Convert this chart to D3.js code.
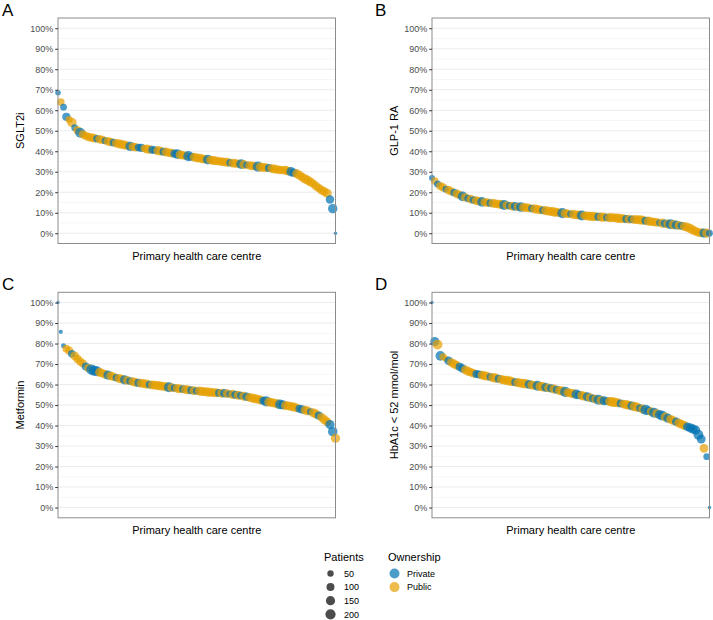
<!DOCTYPE html>
<html>
<head>
<meta charset="utf-8">
<script src="https://cdn.jsdelivr.net/npm/d3@7/dist/d3.min.js"></script>
<style>
  body { margin: 0; background: #fff; }
  text { font-family: "Liberation Sans", Arial, Helvetica, sans-serif; }
</style>
</head>
<body>
<svg id="chart" width="713" height="620"></svg>
<script>
// share per centre (%), centres ranked from highest to lowest
var sglt2i = [68.5, 64, 61.5, 56.8, 55.5, 54, 51.5, 50.2, 49, 48.2,
  47.5, 47, 46.7, 46.4, 46.1, 45.8, 45.5, 45.1, 44.8, 44.5,
  44.2, 43.9, 43.6, 43.3, 43, 42.7, 42.4, 42.2, 42, 41.8,
  41.6, 41.4, 41.1, 40.9, 40.7, 40.5, 40.3, 40.1, 39.8, 39.6,
  39.3, 39.1, 38.8, 38.6, 38.3, 38.1, 37.8, 37.6, 37.3, 37.1,
  36.8, 36.6, 36.3, 36.1, 35.9, 35.7, 35.5, 35.3, 35.1, 34.9,
  34.8, 34.6, 34.4, 34.2, 34.1, 33.9, 33.7, 33.5, 33.3, 33.1,
  32.9, 32.7, 32.5, 32.3, 32.1, 32, 31.8, 31.6, 31.3, 31.1,
  30.9, 30.8, 30.7, 30.3, 30, 29.5, 29.1, 28.3, 27.4, 26.5,
  25.8, 25, 24.2, 23, 22, 21, 20.3, 19.5, 16.5, 12, 0];
var glp1 = [27, 25.5, 24, 23, 22.3, 21.5, 21, 20.4, 19.8, 19.2,
  18.6, 18, 17.5, 17, 16.6, 16.2, 15.9, 15.6, 15.3, 15.1,
  14.9, 14.7, 14.6, 14.4, 14.2, 14, 13.8, 13.6, 13.4, 13.2,
  13.1, 12.9, 12.8, 12.6, 12.5, 12.3, 12.1, 11.9, 11.6, 11.4,
  11.2, 11, 10.8, 10.6, 10.4, 10.2, 10, 9.8, 9.7, 9.5,
  9.4, 9.2, 9, 8.9, 8.7, 8.6, 8.4, 8.3, 8.2, 8.1,
  8, 7.9, 7.8, 7.7, 7.6, 7.6, 7.5, 7.3, 7.2, 7.1,
  7, 6.9, 6.8, 6.7, 6.6, 6.5, 6.3, 6.1, 5.9, 5.7,
  5.5, 5.3, 5.1, 4.9, 4.7, 4.5, 4.4, 4.2, 4, 3.8,
  3.6, 3.3, 2.9, 2.4, 1.6, 0.9, 0.4, 0.2, 0.1, 0.1, 0];
var metformin = [100, 85.7, 78.9, 77.5, 76.5, 75, 74, 72.5, 71.3, 70.3,
  68.8, 68, 67.3, 66.8, 66.5, 66, 65.5, 65, 64.6, 64.2,
  63.8, 63.3, 63, 62.6, 62.3, 62, 61.7, 61.4, 61.1, 60.8,
  60.6, 60.4, 60.2, 60, 59.8, 59.7, 59.5, 59.3, 59.1, 58.9,
  58.7, 58.5, 58.3, 58.1, 57.9, 57.8, 57.6, 57.4, 57.2, 57,
  56.9, 56.8, 56.6, 56.5, 56.3, 56.2, 56.1, 56, 55.9, 55.8,
  55.7, 55.6, 55.4, 55.2, 55, 54.8, 54.6, 54.3, 54, 53.7,
  53.4, 53.1, 52.8, 52.5, 52.1, 51.8, 51.5, 51.2, 50.9, 50.6,
  50.3, 50.1, 49.8, 49.6, 49.3, 49, 48.6, 48.2, 47.8, 47.5,
  47.2, 46.7, 46.2, 45.6, 44.8, 44, 42.8, 41.8, 40.5, 37, 33.8];
var hba1c = [100, 81, 79.5, 74, 73.5, 72.5, 71.6, 70.8, 70, 69.3,
  68.6, 67.8, 67.2, 66.5, 66, 65.5, 65.2, 64.9, 64.6, 64.3,
  64, 63.7, 63.4, 63.1, 62.8, 62.5, 62.2, 62, 61.7, 61.4,
  61.1, 60.9, 60.7, 60.5, 60.3, 60.1, 59.8, 59.6, 59.4, 59.1,
  58.9, 58.6, 58.4, 58.1, 57.8, 57.5, 57.1, 56.8, 56.4, 56.1,
  55.8, 55.5, 55.2, 54.9, 54.6, 54.3, 54, 53.6, 53.2, 52.9,
  52.6, 52.3, 52.1, 51.9, 51.7, 51.5, 51.3, 51.1, 50.8, 50.5,
  50.2, 49.9, 49.6, 49.3, 48.9, 48.5, 48, 47.6, 47.2, 46.8,
  46.3, 45.8, 45.3, 44.8, 44.2, 43.6, 43, 42.4, 41.8, 41.2,
  40.6, 40, 39.4, 38.9, 38.3, 37.8, 35.5, 33.4, 28.9, 24.8, 0];

// patients per centre, same order as the values above
var patA = [30, 90, 60, 110, 70, 160, 60, 120, 190, 110,
  100, 120, 130, 140, 80, 120, 110, 70, 130, 120,
  90, 120, 150, 130, 140, 110, 160, 130, 120, 80,
  110, 70, 140, 120, 100, 90, 150, 130, 100, 140,
  120, 130, 110, 180, 140, 120, 110, 200, 100, 130,
  150, 120, 140, 130, 180, 120, 150, 140, 110, 130,
  120, 150, 80, 140, 130, 110, 170, 140, 60, 120,
  130, 110, 190, 150, 140, 130, 100, 120, 140, 130,
  120, 110, 150, 130, 160, 120, 140, 150, 130, 160,
  150, 140, 120, 130, 110, 140, 130, 150, 120, 160, 3];
var patB = [40, 90, 70, 110, 120, 60, 130, 100, 90, 140,
  120, 180, 110, 80, 130, 90, 140, 120, 170, 110,
  130, 90, 140, 120, 130, 150, 190, 120, 80, 140,
  130, 110, 170, 130, 140, 120, 80, 150, 130, 140,
  90, 150, 130, 140, 160, 130, 120, 200, 140, 130,
  70, 150, 130, 140, 190, 120, 150, 140, 160, 130,
  110, 150, 140, 80, 150, 130, 140, 160, 150, 130,
  100, 140, 90, 150, 130, 160, 140, 110, 150, 130,
  120, 140, 60, 150, 110, 140, 200, 150, 140, 130,
  100, 150, 140, 160, 150, 130, 120, 140, 150, 150, 60];
var patC = [2, 10, 20, 90, 110, 90, 130, 110, 120, 100,
  100, 110, 200, 210, 180, 140, 120, 130, 150, 130,
  130, 80, 140, 130, 150, 130, 90, 140, 130, 110,
  140, 130, 150, 90, 140, 130, 150, 140, 130, 150,
  190, 130, 80, 140, 130, 90, 150, 140, 100, 130,
  80, 150, 140, 130, 150, 140, 130, 150, 90, 140,
  120, 130, 70, 150, 110, 140, 100, 150, 120, 130,
  140, 150, 130, 140, 110, 200, 150, 140, 130, 150,
  180, 150, 140, 130, 150, 140, 130, 100, 120, 140,
  130, 70, 150, 140, 110, 130, 150, 140, 150, 170, 150];
var patD = [2, 140, 180, 170, 80, 40, 130, 120, 140, 130,
  110, 120, 130, 140, 120, 130, 100, 110, 140, 150,
  130, 80, 160, 150, 100, 140, 130, 150, 160, 140,
  100, 150, 140, 170, 150, 130, 140, 130, 180, 150,
  160, 140, 130, 110, 150, 100, 140, 150, 200, 130,
  140, 150, 170, 120, 150, 140, 150, 140, 100, 130,
  190, 130, 140, 90, 150, 180, 150, 140, 100, 130,
  160, 150, 140, 170, 150, 100, 150, 200, 120, 140,
  190, 130, 150, 180, 140, 150, 130, 140, 120, 150,
  130, 140, 130, 150, 160, 150, 180, 140, 130, 60, 3];

// ownership per centre: 1 = Private, 0 = Public
var ownA = ("1011001010" + "0000100100" + "1000001001" + "1000110010" + "0011000110" +
  "0000100000" + "0010001010" + "0010001000" + "0000110000" + "0000000011" + "1").split("");
var ownB = ("1010010010" + "0101010010" + "0100001010" + "1010001000" + "1000000100" +
  "1000100000" + "1001000000" + "1010000100" + "0010101010" + "1000000010" + "1").split("");
var ownC = ("1110010000" + "1011100010" + "0100101001" + "0001000000" + "1010010010" +
  "1000000010" + "1010101010" + "0000110000" + "1100000110" + "0100100011" + "0").split("");
var ownD = ("1101001000" + "1100001100" + "0100100000" + "1000010010" + "0101010010" +
  "0011001010" + "1011000010" + "0010010110" + "1011010010" + "0011111101" + "1").split("");

var yTicks = [0, 10, 20, 30, 40, 50, 60, 70, 80, 90, 100];
var yMinor = [5, 15, 25, 35, 45, 55, 65, 75, 85, 95];
var sizeBreaks = [50, 100, 150, 200];
var ownership = ["Private", "Public"];

var svg = d3.select("#chart");

var colour = d3.scaleOrdinal().domain(ownership).range(["#0072B2", "#E69F00"]);
var size = d3.scaleSqrt().domain([0, 200]).range([1.3, 5.1]);

var panels = [
  {letter: "A", title: "SGLT2i", values: sglt2i, patients: patA, own: ownA, left: 58, top: 18},
  {letter: "B", title: "GLP-1 RA", values: glp1, patients: patB, own: ownB, left: 432, top: 18},
  {letter: "C", title: "Metformin", values: metformin, patients: patC, own: ownC, left: 58, top: 292.3},
  {letter: "D", title: "HbA1c < 52 mmol/mol", values: hba1c, patients: patD, own: ownD, left: 432, top: 292.3}
];
var pw = 277.5, ph = 225.5;

function scatterPanel(g, p) {
  var data = p.values.map(function (v, i) {
    return {rank: i, value: v, patients: p.patients[i], owner: p.own[i] === "1" ? "Private" : "Public"};
  });

  var x = d3.scaleLinear().domain([0, data.length - 1]).range([0, pw]);
  var y = d3.scaleLinear().domain([-5, 105]).range([ph, 0]);

  g.attr("transform", "translate(" + p.left + "," + p.top + ")");

  g.append("rect")
    .attr("width", pw).attr("height", ph)
    .attr("fill", "#fff");

  g.selectAll("line.minor")
    .data(yMinor).enter()
    .append("line").classed("minor", true)
    .attr("x1", 0).attr("x2", pw)
    .attr("y1", y).attr("y2", y)
    .attr("stroke", "#f0f0f0").attr("stroke-width", 0.6);

  g.selectAll("line.major")
    .data(yTicks).enter()
    .append("line").classed("major", true)
    .attr("x1", 0).attr("x2", pw)
    .attr("y1", y).attr("y2", y)
    .attr("stroke", "#ebebeb").attr("stroke-width", 1.1);

  var dots = g.append("g").classed("dots", true);
  dots.selectAll("circle")
    .data(data).enter()
    .append("circle")
    .attr("cx", function (d) { return x(d.rank); })
    .attr("cy", function (d) { return y(d.value); })
    .attr("r", function (d) { return size(d.patients); })
    .attr("fill", function (d) { return colour(d.owner); })
    .attr("fill-opacity", 0.7);

  g.append("rect")
    .attr("width", pw).attr("height", ph)
    .attr("fill", "none")
    .attr("stroke", "#8c8c8c").attr("stroke-width", 1);

  var axis = g.append("g")
    .call(d3.axisLeft(y).tickValues(yTicks)
      .tickFormat(function (d) { return d + "%"; })
      .tickSize(2.8).tickPadding(2));
  axis.select(".domain").remove();
  axis.selectAll("line").attr("stroke", "#333");
  axis.selectAll("text")
    .attr("fill", "#4d4d4d")
    .style("font-size", "9px");

  g.append("text")
    .attr("x", pw / 2).attr("y", ph + 16)
    .attr("text-anchor", "middle")
    .style("font-size", "11px")
    .attr("fill", "#000")
    .text("Primary health care centre");

  g.append("text")
    .attr("transform", "translate(-34," + (ph / 2) + ") rotate(-90)")
    .attr("text-anchor", "middle")
    .style("font-size", "11px")
    .attr("fill", "#000")
    .text(p.title);

  g.append("text")
    .attr("x", p.left === 58 ? -56 : -57).attr("y", -2)
    .style("font-size", "17px")
    .attr("fill", "#000")
    .text(p.letter);
}

panels.forEach(function (p) {
  scatterPanel(svg.append("g").classed("panel", true), p);
});

// legends
var legSize = svg.append("g").attr("transform", "translate(324,0)");
legSize.append("text")
  .attr("x", 0).attr("y", 561)
  .style("font-size", "11px").attr("fill", "#000")
  .text("Patients");
var sizeItems = legSize.selectAll("g.item")
  .data(sizeBreaks).enter()
  .append("g").classed("item", true)
  .attr("transform", function (d, i) { return "translate(0," + (573.5 + i * 13.6) + ")"; });
sizeItems.append("circle")
  .attr("cx", 6.5).attr("cy", 0)
  .attr("r", function (d) { return size(d); })
  .attr("fill", "#000").attr("fill-opacity", 0.7);
sizeItems.append("text")
  .attr("x", 20).attr("y", 3.2)
  .style("font-size", "9px").attr("fill", "#000")
  .text(function (d) { return d; });

var legOwn = svg.append("g").attr("transform", "translate(388,0)");
legOwn.append("text")
  .attr("x", 0).attr("y", 561)
  .style("font-size", "11px").attr("fill", "#000")
  .text("Ownership");
var ownItems = legOwn.selectAll("g.item")
  .data(ownership).enter()
  .append("g").classed("item", true)
  .attr("transform", function (d, i) { return "translate(0," + (573.5 + i * 13.6) + ")"; });
ownItems.append("circle")
  .attr("cx", 6.5).attr("cy", 0)
  .attr("r", 5)
  .attr("fill", function (d) { return colour(d); }).attr("fill-opacity", 0.7);
ownItems.append("text")
  .attr("x", 19).attr("y", 3.2)
  .style("font-size", "9px").attr("fill", "#000")
  .text(function (d) { return d; });
</script>
</body>
</html>
